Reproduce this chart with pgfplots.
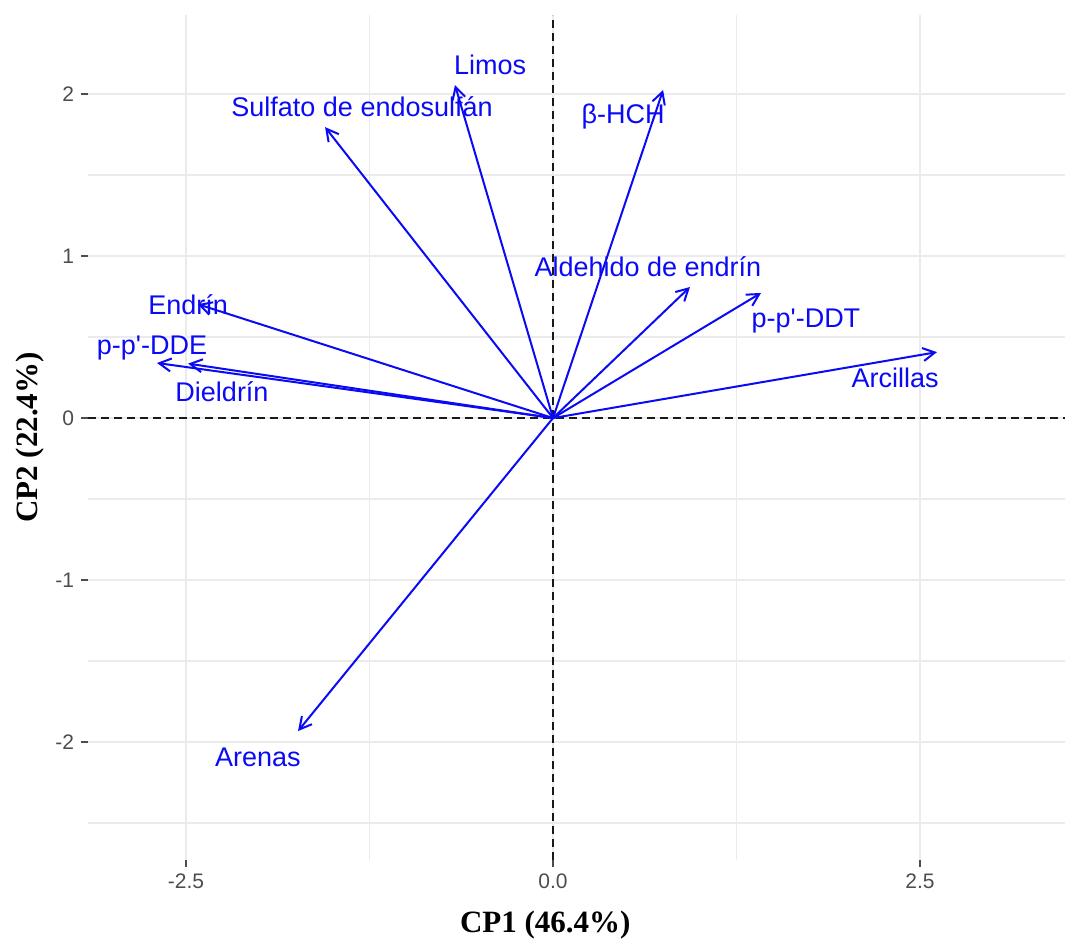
\documentclass[border=0pt]{standalone}
\usepackage{fontspec}
\setmainfont{Liberation Serif}
\newfontfamily\arial{Liberation Sans}
\usepackage{pgfplots}
\pgfplotsset{compat=1.18}
\usetikzlibrary{arrows.meta}
\definecolor{gridc}{RGB}{235,235,235}
\definecolor{tickc}{RGB}{77,77,77}
\definecolor{arrc}{RGB}{10,10,245}
\definecolor{dashc}{RGB}{25,25,25}
\pgfplotsset{
  arrowsty/.style={color=arrc, line width=1pt, -{Straight Barb[length=6pt,width=6.5pt]}},
}
\tikzset{lab/.style={font=\arial\fontsize{13.5}{16}\selectfont, text=arrc, anchor=center, inner sep=0pt}}
\begin{document}
\begin{tikzpicture}
\begin{axis}[name=ax, scale only axis, width=488.5pt, height=422.5pt,
  xmin=-3.168, xmax=3.488, ymin=-2.728, ymax=2.488,
  axis line style={draw=none},
  xtick={-2.5,0,2.5}, xticklabels={-2.5,0.0,2.5},
  ytick={-2,-1,0,1,2}, yticklabels={-2,-1,0,1,2},
  minor xtick={-1.25,1.25}, minor ytick={-2.5,-1.5,-0.5,0.5,1.5},
  grid=both,
  major grid style={gridc, line width=1pt},
  minor grid style={gridc, line width=0.7pt},
  tick align=outside, xtick pos=left, ytick pos=left,
  major tick length=3.5pt, minor tick length=0pt,
  every tick/.style={tickc, line width=0.9pt},
  tick label style={font=\arial\fontsize{10.5}{12}\selectfont, text=tickc},
  xlabel={CP1 (46.4\%)}, ylabel={CP2 (22.4\%)},
  label style={font=\fontsize{15.5}{18}\selectfont\bfseries},
  xlabel style={at={(axis description cs:0.468,-0.077)}, anchor=center},
  ylabel style={at={(axis description cs:-0.0595,0.5)}, anchor=center},
  clip=false]
\addplot[dashc, line width=0.9pt, dash pattern=on 4pt off 2.5pt] coordinates {(0,-2.728) (0,2.488)};
\addplot[dashc, line width=0.9pt, dash pattern=on 4pt off 2.5pt] coordinates {(-3.168,0) (3.488,0)};
\addplot[arrowsty] coordinates {(0,0) (-1.553,1.796)};
\addplot[arrowsty] coordinates {(0,0) (-0.668,2.056)};
\addplot[arrowsty] coordinates {(0,0) (0.750,2.025)};
\addplot[arrowsty] coordinates {(0,0) (0.933,0.809)};
\addplot[arrowsty] coordinates {(0,0) (1.417,0.772)};
\addplot[arrowsty] coordinates {(0,0) (2.616,0.407)};
\addplot[arrowsty] coordinates {(0,0) (-2.420,0.703)};
\addplot[arrowsty] coordinates {(0,0) (-2.698,0.340)};
\addplot[arrowsty] coordinates {(0,0) (-2.486,0.336)};
\addplot[arrowsty] coordinates {(0,0) (-1.737,-1.932)};
\node[lab] at (axis cs:-1.301,1.920) {Sulfato de endosulfán};
\node[lab] at (axis cs:-0.429,2.179) {Limos};
\node[lab] at (axis cs:0.477,1.864) {β-HCH};
\node[lab] at (axis cs:0.647,0.932) {Aldehido de endrín};
\node[lab] at (axis cs:1.723,0.599) {p-p'-DDT};
\node[lab] at (axis cs:2.330,0.247) {Arcillas};
\node[lab] at (axis cs:-2.486,0.698) {Endrín};
\node[lab] at (axis cs:-2.732,0.432) {p-p'-DDE};
\node[lab] at (axis cs:-2.255,0.160) {Dieldrín};
\node[lab] at (axis cs:-2.010,-2.093) {Arenas};
\end{axis}
\pgfresetboundingbox
\path[use as bounding box] ([xshift=-44pt,yshift=-41.5pt]ax.south west) rectangle ([yshift=7.5pt]ax.north east);
\end{tikzpicture}
\end{document}
